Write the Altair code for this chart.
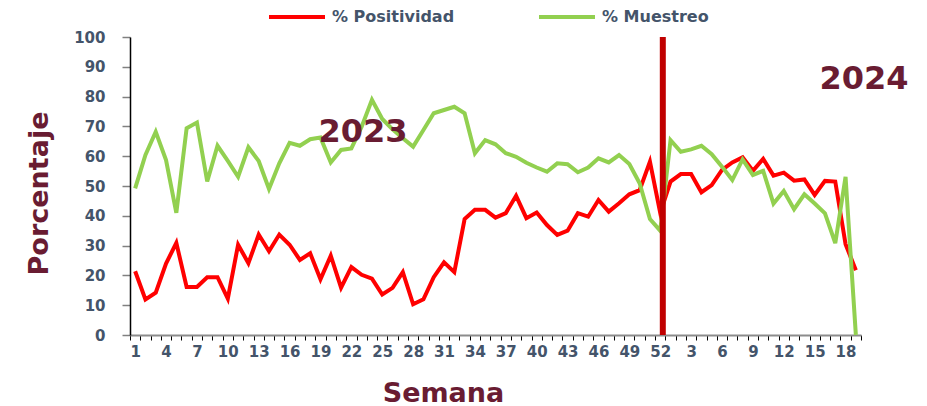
import json
import altair as alt
import pandas as pd

# ---- data ----
weeks_2023 = list(range(1, 53))
weeks_2024 = list(range(1, 20))
week_labels = [str(w) for w in weeks_2023] + [str(w) for w in weeks_2024]

positividad = [
    21.4, 11.9, 14.2, 24.0, 30.9, 16.1, 16.1, 19.4, 19.4, 12.2,
    30.3, 24.1, 33.7, 28.1, 33.7, 30.3, 25.2, 27.4, 18.7, 26.6,
    15.9, 22.8, 20.2, 18.9, 13.6, 15.8, 21.1, 10.3, 12.0, 19.4,
    24.4, 21.1, 38.9, 42.0, 42.0, 39.4, 40.9, 46.7, 39.2, 41.1,
    36.9, 33.6, 35.0, 40.9, 39.7, 45.3, 41.4, 44.2, 47.2, 48.6,
    58.2, 41.0,
    51.5, 54.0, 54.0, 47.9, 50.3, 55.4, 57.9, 59.6, 55.1, 59.1,
    53.5, 54.5, 51.8, 52.2, 47.0, 51.7, 51.5, 30.5, 21.7,
]
muestreo = [
    49.2, 60.4, 68.2, 58.7, 41.0, 69.4, 71.3, 51.5, 63.5, 58.4,
    53.1, 63.0, 58.4, 49.0, 57.6, 64.5, 63.5, 65.7, 66.3, 57.9,
    62.1, 62.6, 69.9, 78.9, 72.5, 69.0, 66.0, 63.2, 68.8, 74.4,
    75.5, 76.6, 74.4, 61.0, 65.4, 64.0, 61.0, 59.8, 57.8, 56.2,
    54.8, 57.6, 57.3, 54.6, 56.2, 59.3, 57.9, 60.4, 57.4, 50.9,
    38.9, 35.0,
    65.4, 61.5, 62.3, 63.5, 60.7, 56.5, 52.0, 58.9, 53.7, 55.1,
    44.1, 48.3, 42.2, 47.2, 44.1, 40.8, 30.8, 53.1, 0.0,
]
series_names = ["% Positividad", "% Muestreo"]
series_colors = ["#FF0000", "#92D050"]
divider_index = [51]      # week 52 of 2023
divider_value = [100]
y_ticks = list(range(0, 101, 10))
year_labels = ["2023", "2024"]

n = len(week_labels)
idx = list(range(n))
df = pd.DataFrame({
    "idx": idx + idx,
    "semana": week_labels + week_labels,
    "serie": [series_names[0]] * n + [series_names[1]] * n,
    "valor": positividad + muestreo,
})
div_df = pd.DataFrame({"idx": divider_index, "top": divider_value, "bottom": [0]})

TXT = "#44546A"
GUINDA = "#691C32"
FONT = "DejaVu Sans"

label_expr = "datum.value % 3 == 0 ? " + json.dumps(week_labels) + "[datum.value] : ''"

x_scale = alt.Scale(type="band", paddingInner=0, paddingOuter=0)
x_axis = alt.Axis(
    title="Semana", titleFont=FONT, titleFontSize=27, titleFontWeight="bold",
    titleColor=GUINDA, titleX=313, titleY=66, titleAlign="center",
    titleBaseline="alphabetic",
    labelExpr=label_expr, labelAngle=0, labelOverlap=False, labelBound=False,
    labelFlush=False, labelFont=FONT, labelFontSize=15, labelFontWeight="bold",
    labelColor=TXT, labelPadding=4,
    tickBand="extent", tickColor="#000000", tickSize=5, tickWidth=1,
    domainColor="#8C8C8C", domainWidth=2, grid=False,
)
y_scale = alt.Scale(domain=[0, 100], nice=False)
y_axis = alt.Axis(
    values=y_ticks,
    title="Porcentaje", titleFont=FONT, titleFontSize=27, titleFontWeight="bold",
    titleColor=GUINDA, titleX=-83, titleY=156, titleAngle=270,
    titleAlign="center", titleBaseline="alphabetic",
    labelOverlap=False, labelBound=False, labelFlush=False,
    labelFont=FONT, labelFontSize=15, labelFontWeight="bold", labelColor=TXT,
    labelPadding=17, tickColor="#808080", tickSize=8, tickWidth=1.5,
    domainColor="#000000", domainWidth=1.5, grid=False,
)

lines = alt.Chart(df).mark_line(strokeWidth=4).encode(
    x=alt.X("idx:O", bandPosition=0.5, scale=x_scale, axis=x_axis),
    y=alt.Y("valor:Q", scale=y_scale, axis=y_axis),
    color=alt.Color(
        "serie:N",
        scale=alt.Scale(domain=series_names, range=series_colors),
        legend=alt.Legend(
            title=None, orient="none", legendX=137, legendY=-50,
            direction="horizontal", columns=2, symbolType="stroke",
            symbolSize=3136, symbolStrokeWidth=4, labelFont=FONT,
            labelFontWeight="bold", labelFontSize=16, labelColor=TXT,
            labelOffset=5, columnPadding=76, labelLimit=400,
        ),
    ),
    order=alt.Order("idx:Q"),
)

divider = alt.Chart(div_df).mark_rule(color="#C00000", strokeWidth=6).encode(
    x=alt.X("idx:O", bandPosition=0.75, scale=x_scale, axis=x_axis),
    y=alt.Y("top:Q", scale=y_scale, axis=y_axis),
    y2="bottom:Q",
)

t2023 = alt.Chart(pd.DataFrame({"t": [year_labels[0]]})).mark_text(
    font=FONT, fontWeight="bold", fontSize=32, color=GUINDA,
    align="center", baseline="alphabetic",
).encode(text="t:N", x=alt.value(233), y=alt.value(105))

t2024 = alt.Chart(pd.DataFrame({"t": [year_labels[1]]})).mark_text(
    font=FONT, fontWeight="bold", fontSize=32, color=GUINDA,
    align="center", baseline="alphabetic",
).encode(text="t:N", x=alt.value(734), y=alt.value(52))

chart = alt.layer(lines, divider, t2023, t2024).properties(
    width=731, height=298,
    autosize=alt.AutoSizeParams(type="none"),
    padding={"left": 122, "top": 29, "right": 58, "bottom": 73},
    background="white",
).configure_view(stroke=None)

chart.save("out.html", embed_options={"renderer": "svg", "actions": False})
